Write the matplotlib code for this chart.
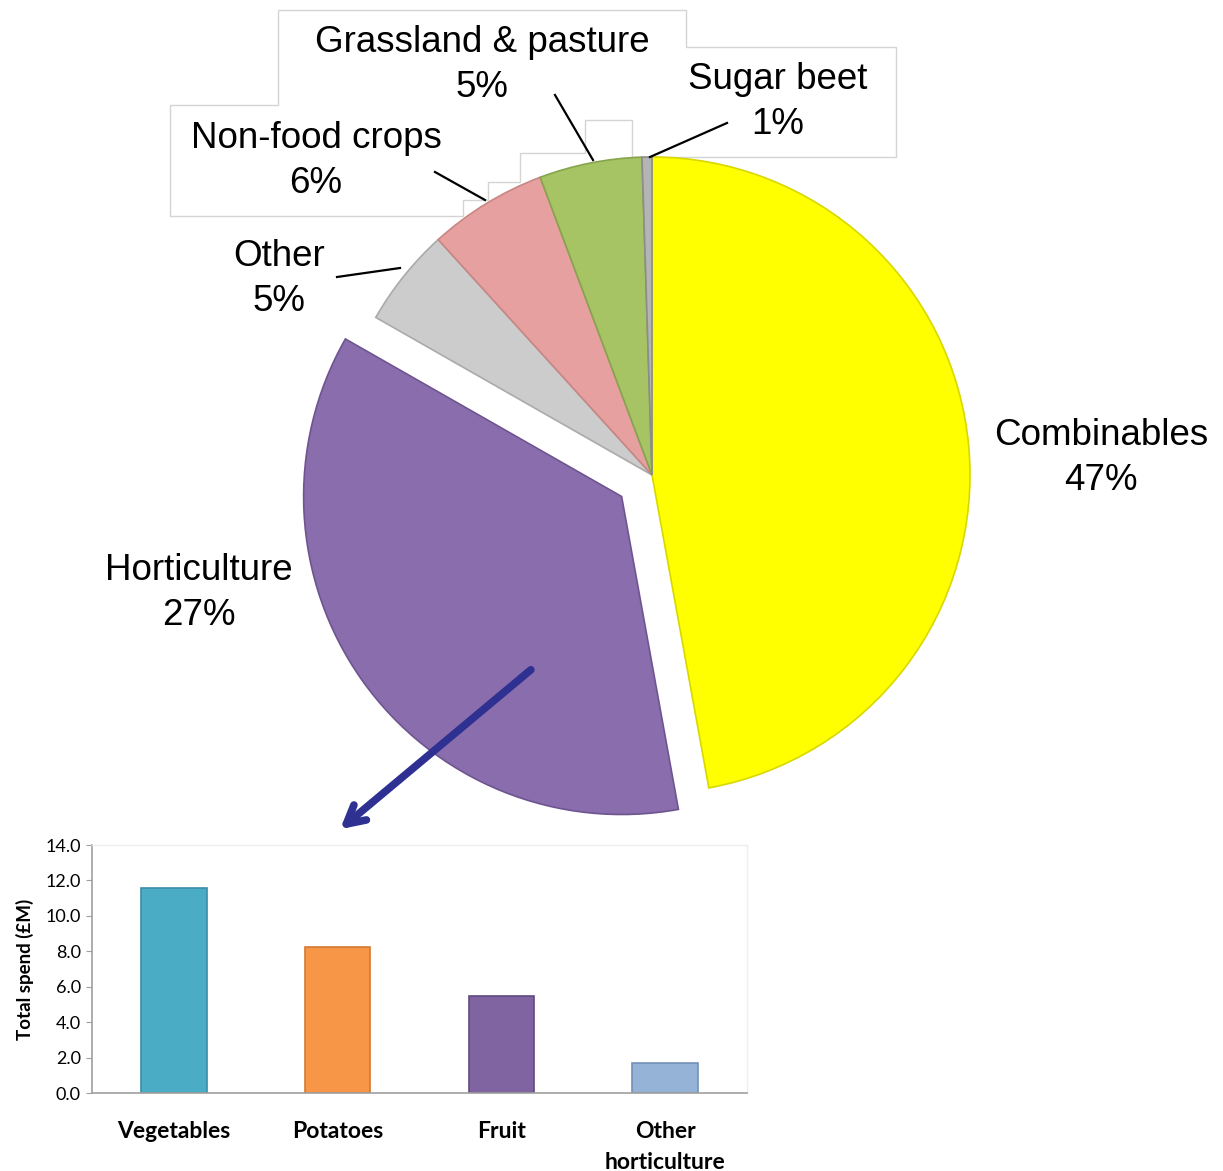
import matplotlib
matplotlib.use("Agg")
import matplotlib.pyplot as plt
from matplotlib.patches import Polygon

# ---------------- data ----------------
pie_names = ["Combinables", "Horticulture", "Other", "Non-food crops",
             "Grassland & pasture", "Sugar beet"]
pie_shares = [47, 36, 5, 6, 5.2, 0.5]          # wedge sizes as drawn
pie_pct_labels = ["47%", "27%", "5%", "6%", "5%", "1%"]
pie_colors = ["#FFFF00", "#8A6DAC", "#CCCCCC", "#E6A09F", "#A6C464", "#B4B4B4"]
pie_edges = ["#D8D800", "#6E5590", "#AAAAAA", "#C88685", "#86A44C", "#8C8C8C"]
pie_explode_frac = [0, 0.117, 0, 0, 0, 0]

bar_cats = ["Vegetables", "Potatoes", "Fruit", "Other\nhorticulture"]
bar_vals = [11.6, 8.25, 5.5, 1.7]
bar_colors = ["#4BACC6", "#F79646", "#8064A2", "#95B3D7"]
bar_edges = ["#3A8EA6", "#D27A30", "#604A80", "#7391B8"]
y_ticks = [0, 2, 4, 6, 8, 10, 12, 14]

W, H = 1223, 1171
fig = plt.figure(figsize=(W / 100, H / 100), dpi=100)

# ---------------- pie (pixel-coordinate axes) ----------------
ax = fig.add_axes([0, 0, 1, 1])

def py(y):
    return H - y

# label box outline (behind pie)
outline = [(170, 216), (170, 105), (278, 105), (278, 10), (686, 10), (686, 47),
           (896, 47), (896, 157), (632, 157), (632, 120), (585, 120), (585, 153),
           (520, 153), (520, 182), (488, 182), (488, 200), (463, 200), (463, 216)]
ax.add_patch(Polygon([(x, py(y)) for x, y in outline], closed=True,
                     facecolor="white", edgecolor="#D4D4D4", lw=1.0, zorder=1))

cx, cy, R = 652, py(475), 318
wedges, _ = ax.pie(pie_shares, colors=pie_colors,
                   explode=[e * R for e in pie_explode_frac],
                   startangle=90, counterclock=False, center=(cx, cy), radius=R,
                   wedgeprops=dict(linewidth=1.2), frame=True)
for w, ec in zip(wedges, pie_edges):
    w.set_edgecolor(ec)
    w.set_zorder(2)
ax.set_xlim(0, W)
ax.set_ylim(0, H)
ax.set_aspect("auto")
ax.axis("off")

lab_font = dict(family=["Liberation Sans", "DejaVu Sans"], fontsize=26.5,
                color="black", ha="center", va="center", linespacing=1.36, zorder=5)
label_pos = [(1101, 458), (199, 593), (279, 279), (316, 161), (482, 65), (778, 102)]
for name, pct, (x, y) in zip(pie_names, pie_pct_labels, label_pos):
    ax.text(x, py(y), f"{name}\n{pct}", **lab_font)

# leader lines
leaders = [((337, 277), (400, 268)), ((435, 172), (485, 200)),
           ((555, 95), (593, 160)), ((727, 123), (650, 157))]
for (x0, y0), (x1, y1) in leaders:
    ax.plot([x0, x1], [py(y0), py(y1)], color="black", lw=1.6, zorder=6)

# arrow
ax.annotate("", xy=(338, py(831)), xytext=(533, py(668)),
            arrowprops=dict(arrowstyle="->,head_length=1.3,head_width=0.7",
                            color="#2E3192", lw=5.5), zorder=7)

# ---------------- bar chart ----------------
bx = fig.add_axes([92 / W, 1 - 1093 / H, (747 - 92) / W, (1093 - 845) / H])
bx.set_zorder(3)
xs = range(len(bar_cats))
bx.bar(xs, bar_vals, width=0.4, color=bar_colors, edgecolor=bar_edges, linewidth=1.2)
bx.set_xlim(-0.5, 3.5)
bx.set_ylim(0, 14)
bx.set_yticks(y_ticks)
bx.set_yticklabels([f"{v:.1f}" for v in y_ticks],
                   fontdict=dict(family=["Lato", "DejaVu Sans"], fontsize=13))
bx.set_xticks(list(xs))
bx.set_xticklabels(bar_cats, fontdict=dict(family=["Lato", "DejaVu Sans"],
                                           fontsize=16.5, fontweight="bold"),
                   linespacing=1.6)
bx.set_ylabel("Total spend (£M)", family=["Lato", "DejaVu Sans"], fontsize=13.5,
              fontweight="bold", labelpad=8)
bx.tick_params(axis="x", length=0, pad=20)
bx.tick_params(axis="y", length=4, color="#A0A0A0", pad=4)
for s in ["left", "bottom"]:
    bx.spines[s].set_color("#A0A0A0")
    bx.spines[s].set_linewidth(1.2)
for s in ["top", "right"]:
    bx.spines[s].set_color("#EEEEEE")
    bx.spines[s].set_linewidth(1.0)

fig.savefig("out.png", dpi=100)
